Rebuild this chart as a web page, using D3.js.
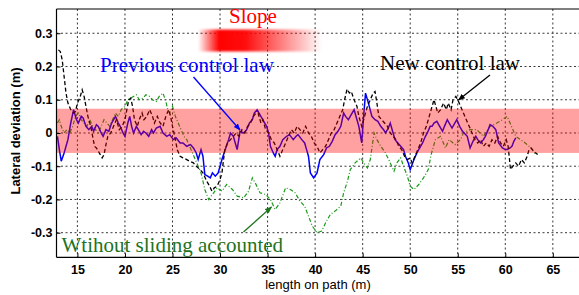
<!DOCTYPE html>
<html>
<head>
<meta charset="utf-8">
<script src="https://cdnjs.cloudflare.com/ajax/libs/d3/7.8.5/d3.min.js"></script>
<style>
  body { margin: 0; background: #fff; }
  svg { display: block; }
</style>
</head>
<body>
<svg id="chart"></svg>
<script>
// --------------------------------------
// DATA  (length on path in m, lateral deviation in m)
// --------------------------------------
var xTicks = [15, 20, 25, 30, 35, 40, 45, 50, 55, 60, 65];
var yTicks = [-0.3, -0.2, -0.1, 0, 0.1, 0.2, 0.3];

// tolerance band drawn in pink
var bandLimits = [-0.06, 0.073];

// previous control law (blue solid)
var previousLaw = [
    [12.9,-0.01],[13.1,-0.05],[13.3,-0.085],[13.6,-0.06],[14.0,-0.02],[14.3,0.03],[14.6,0.07],[14.9,0.04],
    [15.1,0.03],[15.4,0.05],[15.6,0.045],[15.9,0.02],[16.2,0.01],[16.5,0.02],[16.7,0.005],[17.0,0.025],
    [17.2,0.02],[17.5,0.0],[17.7,-0.01],[18.0,0.01],[18.3,0.005],[18.6,0.03],[19.0,0.05],[19.3,0.03],
    [19.5,0.02],[19.8,0.0],[20.0,-0.01],[20.3,0.03],[20.5,0.05],[20.7,0.02],[20.9,0.0],[21.2,0.02],
    [21.4,0.01],[21.7,-0.005],[21.95,0.005],[22.2,0.0],[22.5,-0.01],[22.8,0.01],[23.0,0.0],[23.3,0.015],
    [23.7,0.02],[24.0,0.0],[24.4,-0.01],[24.7,-0.005],[25.1,-0.02],[25.4,-0.015],[25.8,-0.03],[26.1,-0.03],
    [26.5,-0.04],[26.9,-0.035],[27.2,-0.045],[27.5,-0.06],[27.7,-0.08],[28.0,-0.05],[28.2,-0.07],[28.4,-0.125],
    [28.7,-0.13],[28.97,-0.135],[29.2,-0.12],[29.5,-0.13],[29.8,-0.12],[30.0,-0.1],[30.2,-0.08],[30.6,-0.045],
    [30.9,-0.02],[31.1,0.0],[31.4,-0.01],[31.6,-0.03],[31.8,-0.05],[32.1,0.005],[32.5,0.0],[32.8,0.01],
    [33.1,0.03],[33.4,0.04],[33.6,0.06],[33.9,0.07],[34.1,0.06],[34.4,0.045],[34.7,0.03],[34.9,0.02],
    [35.1,0.0],[35.3,-0.04],[35.6,-0.06],[35.8,-0.07],[36.0,-0.05],[36.3,-0.04],[36.6,-0.02],[37.0,-0.01],
    [37.3,-0.005],[37.7,-0.02],[38.0,-0.01],[38.2,-0.005],[38.6,-0.02],[38.9,-0.03],[39.1,-0.05],[39.3,-0.07],
    [39.5,-0.12],[39.85,-0.135],[40.2,-0.12],[40.5,-0.08],[40.9,-0.065],[41.2,-0.045],[41.5,-0.04],[41.8,-0.025],
    [42.1,-0.005],[42.4,0.005],[42.7,0.02],[43.0,0.06],[43.2,0.05],[43.5,0.04],[43.8,0.055],[44.1,0.07],
    [44.4,0.04],[44.6,0.02],[44.9,-0.03],[45.1,0.05],[45.3,0.12],[45.6,0.09],[45.97,0.05],[46.3,0.04],
    [46.6,0.035],[46.9,0.02],[47.2,0.01],[47.4,0.0],[47.7,0.015],[47.9,0.03],[48.2,0.0],[48.4,-0.02],
    [48.7,-0.03],[49.0,-0.04],[49.3,-0.05],[49.5,-0.07],[49.8,-0.09],[50.0,-0.11],[50.2,-0.095],[50.4,-0.08],
    [50.7,-0.06],[51.0,-0.045],[51.3,-0.03],[51.6,-0.01],[51.8,0.0],[52.1,0.02],[52.3,0.02],[52.5,0.03],
    [52.8,0.035],[53.1,0.02],[53.4,0.005],[53.6,0.02],[53.9,0.04],[54.1,0.03],[54.4,0.015],[54.6,0.025],
    [54.9,0.04],[55.2,0.02],[55.5,0.005],[56.0,-0.01],[56.3,-0.045],[56.6,-0.025],[56.9,-0.01],[57.1,-0.02],
    [57.4,-0.03],[57.7,-0.02],[57.9,-0.01],[58.2,0.01],[58.4,0.025],[58.7,0.02],[59.0,0.01],[59.3,-0.03],
    [59.7,-0.045],[60.0,-0.05],[60.2,-0.05],[60.5,-0.045],[60.7,-0.04],[60.9,-0.025],[61.1,-0.015]
];

// new control law (black dashed)
var newLaw = [
    [13.0,0.25],[13.2,0.245],[13.4,0.22],[13.6,0.17],[13.8,0.12],[14.0,0.09],[14.3,0.07],[14.6,0.06],
    [14.8,0.065],[15.0,0.09],[15.3,0.11],[15.5,0.13],[15.7,0.11],[15.9,0.08],[16.1,0.05],[16.4,0.02],
    [16.6,-0.01],[16.8,-0.04],[17.0,-0.045],[17.3,-0.06],[17.6,-0.075],[17.8,-0.065],[18.0,-0.035],[18.2,-0.01],
    [18.5,0.0],[18.8,0.02],[19.1,0.04],[19.4,0.01],[19.7,0.02],[20.0,0.04],[20.2,0.07],[20.4,0.1],
    [20.6,0.105],[20.8,0.08],[21.0,0.04],[21.3,0.02],[21.5,0.04],[21.8,0.06],[22.0,0.04],[22.3,0.05],
    [22.6,0.07],[22.9,0.05],[23.1,0.03],[23.4,0.05],[23.7,0.03],[24.0,0.02],[24.3,0.05],[24.6,0.07],
    [24.8,0.05],[25.0,0.02],[25.3,-0.02],[25.5,-0.05],[25.8,-0.07],[26.1,-0.075],[26.5,-0.08],[26.8,-0.085],
    [27.2,-0.09],[27.5,-0.1],[27.9,-0.11],[28.2,-0.12],[28.6,-0.145],[28.9,-0.16],[29.15,-0.175],[29.4,-0.165],
    [29.7,-0.16],[30.0,-0.14],[30.2,-0.12],[30.5,-0.05],[30.8,-0.03],[31.1,-0.02],[31.4,-0.01],[31.7,0.0],
    [32.0,-0.01],[32.3,0.01],[32.6,0.0],[32.9,0.02],[33.2,0.03],[33.5,0.05],[33.8,0.06],[34.0,0.06],
    [34.3,0.03],[34.5,0.04],[34.8,0.01],[35.1,0.0],[35.4,-0.02],[35.7,-0.03],[36.0,-0.05],[36.3,-0.07],
    [36.6,-0.05],[36.9,-0.03],[37.2,-0.01],[37.5,0.01],[37.8,0.0],[38.1,0.02],[38.4,0.01],[38.7,0.0],
    [39.0,0.02],[39.3,0.0],[39.6,-0.01],[39.9,-0.03],[40.2,-0.04],[40.5,-0.06],[40.8,-0.05],[41.1,-0.04],
    [41.4,-0.02],[41.7,0.0],[42.0,0.01],[42.3,0.03],[42.6,0.05],[42.9,0.07],[43.1,0.1],[43.36,0.132],
    [43.6,0.12],[43.8,0.125],[44.1,0.1],[44.4,0.08],[44.6,0.05],[44.9,0.02],[45.2,0.05],[45.5,0.08],
    [45.8,0.1],[46.1,0.12],[46.3,0.125],[46.5,0.09],[46.7,0.05],[47.0,0.04],[47.3,0.03],[47.6,0.02],
    [47.9,0.0],[48.2,-0.01],[48.5,-0.02],[48.8,-0.04],[49.1,-0.05],[49.4,-0.07],[49.7,-0.08],[50.0,-0.075],
    [50.2,-0.09],[50.5,-0.07],[50.8,-0.05],[51.1,-0.03],[51.4,0.0],[51.7,0.02],[52.0,0.05],[52.2,0.07],
    [52.5,0.1],[52.7,0.08],[52.9,0.06],[53.2,0.07],[53.5,0.09],[53.8,0.07],[54.0,0.09],[54.3,0.07],
    [54.5,0.1],[54.8,0.11],[55.0,0.1],[55.3,0.08],[55.6,0.06],[55.9,0.04],[56.2,0.02],[56.5,0.0],
    [56.8,-0.02],[57.1,-0.03],[57.4,-0.02],[57.7,-0.04],[58.0,-0.03],[58.3,-0.04],[58.6,-0.02],[58.9,-0.03],
    [59.2,-0.01],[59.5,-0.03],[59.8,-0.04],[60.1,-0.02],[60.3,-0.04],[60.55,-0.11],[60.8,-0.1],[61.1,-0.09],
    [61.4,-0.1],[61.7,-0.08],[62.0,-0.09],[62.3,-0.07],[62.5,-0.05],[62.7,-0.045],[63.0,-0.055],[63.4,-0.065]
];

// without sliding accounted (green dash-dot)
var withoutSliding = [
    [12.9,0.03],[13.1,0.04],[13.3,0.02],[13.6,0.0],[13.9,0.01],[14.2,0.0],[14.5,0.02],[14.8,0.05],
    [15.1,0.06],[15.4,0.04],[15.7,0.03],[16.0,0.02],[16.3,0.04],[16.6,0.02],[16.9,0.01],[17.2,0.0],
    [17.5,0.02],[17.8,0.04],[18.1,0.03],[18.4,0.02],[18.7,0.04],[19.0,0.06],[19.3,0.05],[19.6,0.07],
    [20.0,0.08],[20.3,0.1],[20.6,0.105],[20.9,0.11],[21.2,0.115],[21.5,0.1],[21.9,0.105],[22.2,0.115],
    [22.6,0.11],[22.9,0.1],[23.3,0.095],[23.6,0.11],[24.0,0.12],[24.3,0.095],[24.5,0.07],[24.7,0.06],
    [25.0,0.08],[25.3,0.05],[25.6,0.03],[25.9,0.01],[26.2,-0.01],[26.5,-0.02],[26.8,-0.04],[27.1,-0.06],
    [27.4,-0.08],[27.7,-0.1],[28.0,-0.12],[28.4,-0.17],[28.8,-0.2],[29.2,-0.185],[29.7,-0.165],[30.2,-0.175],
    [30.7,-0.155],[31.3,-0.17],[31.8,-0.19],[32.5,-0.195],[33.0,-0.175],[33.4,-0.135],[33.7,-0.15],[34.2,-0.18],
    [34.8,-0.185],[35.3,-0.2],[35.8,-0.23],[36.3,-0.21],[36.9,-0.165],[37.4,-0.17],[37.9,-0.18],[38.4,-0.205],
    [38.9,-0.22],[39.3,-0.25],[39.7,-0.28],[40.2,-0.3],[40.7,-0.295],[41.1,-0.27],[41.6,-0.245],[42.1,-0.235],
    [42.7,-0.22],[43.0,-0.18],[43.4,-0.145],[43.7,-0.11],[44.2,-0.09],[44.8,-0.075],[45.1,-0.09],[45.5,-0.105],
    [45.8,-0.08],[46.0,-0.04],[46.2,0.0],[46.5,-0.02],[46.9,-0.04],[47.4,-0.06],[47.9,-0.09],[48.3,-0.115],
    [48.6,-0.09],[49.0,-0.075],[49.3,-0.1],[49.7,-0.13],[50.0,-0.16],[50.4,-0.17],[50.9,-0.155],[51.4,-0.135],
    [51.9,-0.11],[52.2,-0.065],[52.65,-0.02],[53.2,-0.01],[53.7,-0.045],[54.1,-0.02],[54.7,-0.035],[55.3,-0.02],
    [55.6,0.0],[56.3,0.01],[57.0,0.01],[57.7,-0.01],[58.4,0.02],[59.1,0.03],[59.7,0.04],[60.2,0.05],
    [60.5,0.03],[61.1,-0.01],[61.6,-0.02],[62.1,-0.03],[62.7,-0.045],[63.2,-0.065]
];

// --------------------------------------
// CONFIG
// --------------------------------------
var CONFIG = {
    width: 579,
    height: 295,
    left: 56.5,
    right: 580.5,
    top: 9,
    bottom: 257.3
};

var svg = d3.select('#chart')
    .attr('width', CONFIG.width)
    .attr('height', CONFIG.height);

svg.append('rect')
    .attr('width', CONFIG.width).attr('height', CONFIG.height)
    .attr('fill', '#fff');

var x = d3.scaleLinear().domain([12.8, 67.91]).range([CONFIG.left, CONFIG.right]);
var y = d3.scaleLinear().domain([-0.374, 0.373]).range([CONFIG.bottom, CONFIG.top]);

var defs = svg.append('defs');

defs.append('clipPath').attr('id', 'plot-clip')
    .append('rect')
    .attr('x', CONFIG.left).attr('y', CONFIG.top)
    .attr('width', CONFIG.right - CONFIG.left)
    .attr('height', CONFIG.bottom - CONFIG.top);

// arrow heads for the annotations
function addMarker(id, color) {
    defs.append('marker')
        .attr('id', id)
        .attr('viewBox', '0 0 10 10')
        .attr('refX', 9).attr('refY', 5)
        .attr('markerWidth', 7).attr('markerHeight', 7)
        .attr('markerUnits', 'userSpaceOnUse')
        .attr('orient', 'auto')
        .append('path')
        .attr('d', 'M0,1 L10,5 L0,9 Z')
        .attr('fill', color);
}
addMarker('arrow-blue', '#0000ff');
addMarker('arrow-black', '#000');
addMarker('arrow-green', '#1e731e');

// slope gradient
var grad = defs.append('linearGradient').attr('id', 'slope-grad');
grad.append('stop').attr('offset', '0%').attr('stop-color', '#ff0000').attr('stop-opacity', 0);
grad.append('stop').attr('offset', '17%').attr('stop-color', '#ff0000').attr('stop-opacity', 1);
grad.append('stop').attr('offset', '38%').attr('stop-color', '#ff0000').attr('stop-opacity', 0.95);
grad.append('stop').attr('offset', '100%').attr('stop-color', '#ff0000').attr('stop-opacity', 0);

defs.append('filter').attr('id', 'soft')
    .attr('x', '-10%').attr('y', '-30%').attr('width', '120%').attr('height', '160%')
    .append('feGaussianBlur').attr('stdDeviation', 1.2);

// --------------------------------------
// GRID
// --------------------------------------
var grid = svg.append('g').attr('class', 'grid')
    .attr('stroke', '#222').attr('stroke-width', 0.9)
    .attr('stroke-dasharray', '2,2.5');

grid.selectAll('line.gx').data(xTicks).enter().append('line')
    .attr('x1', function(d){ return x(d); }).attr('x2', function(d){ return x(d); })
    .attr('y1', CONFIG.top).attr('y2', CONFIG.bottom);

grid.selectAll('line.gy').data(yTicks).enter().append('line')
    .attr('y1', function(d){ return y(d); }).attr('y2', function(d){ return y(d); })
    .attr('x1', CONFIG.left).attr('x2', CONFIG.right);

// --------------------------------------
// LINES
// --------------------------------------
var line = d3.line()
    .x(function(d){ return x(d[0]); })
    .y(function(d){ return y(d[1]); });

var plot = svg.append('g').attr('clip-path', 'url(#plot-clip)');

plot.append('path').datum(withoutSliding)
    .attr('d', line).attr('fill', 'none')
    .attr('stroke', '#1a9a1a').attr('stroke-width', 1.2)
    .attr('stroke-dasharray', '4,2,1,2');

plot.append('path').datum(previousLaw)
    .attr('d', line).attr('fill', 'none')
    .attr('stroke', '#0000ff').attr('stroke-width', 1.5);

plot.append('path').datum(newLaw)
    .attr('d', line).attr('fill', 'none')
    .attr('stroke', '#000').attr('stroke-width', 1.3)
    .attr('stroke-dasharray', '4,2.5');

// pink band on top, semi transparent
plot.append('rect')
    .attr('x', CONFIG.left)
    .attr('width', CONFIG.right - CONFIG.left)
    .attr('y', y(bandLimits[1]))
    .attr('height', y(bandLimits[0]) - y(bandLimits[1]))
    .attr('fill', '#ff0000').attr('fill-opacity', 0.37);

// --------------------------------------
// AXES
// --------------------------------------
var xAxis = d3.axisBottom(x).tickValues(xTicks).tickSize(-4).tickPadding(8)
    .tickFormat(function(d){ return String(d); });
var yAxis = d3.axisLeft(y).tickValues(yTicks).tickSize(-4).tickPadding(4)
    .tickFormat(function(d){ return String(d); });

var gx = svg.append('g').attr('transform', 'translate(0,' + CONFIG.bottom + ')').call(xAxis);
var gy = svg.append('g').attr('transform', 'translate(' + CONFIG.left + ',0)').call(yAxis);

[gx, gy].forEach(function(g){
    g.select('.domain').remove();
    g.selectAll('text')
        .attr('fill', '#000')
        .style('font-family', '"Liberation Sans", Arial, sans-serif')
        .style('font-weight', 'bold')
        .style('font-size', '12.5px');
    g.selectAll('.tick line').attr('stroke', '#000');
});

// frame
var frame = svg.append('g').attr('stroke', '#000').attr('stroke-width', 1.2);
frame.append('line').attr('x1', CONFIG.left).attr('x2', CONFIG.left).attr('y1', CONFIG.top).attr('y2', CONFIG.bottom);
frame.append('line').attr('x1', CONFIG.left).attr('x2', CONFIG.right).attr('y1', CONFIG.bottom).attr('y2', CONFIG.bottom);
frame.append('line').attr('x1', CONFIG.left).attr('x2', CONFIG.right).attr('y1', CONFIG.top).attr('y2', CONFIG.top);

// axis titles
svg.append('text')
    .attr('x', 318).attr('y', 289)
    .attr('text-anchor', 'middle')
    .style('font-family', '"Liberation Sans", Arial, sans-serif')
    .style('font-size', '13px')
    .text('length on path (m)');

svg.append('text')
    .attr('transform', 'translate(20,131) rotate(-90)')
    .attr('text-anchor', 'middle')
    .style('font-family', '"Liberation Sans", Arial, sans-serif')
    .style('font-weight', 'bold')
    .style('font-size', '13px')
    .text('Lateral deviation (m)');

// --------------------------------------
// ANNOTATIONS
// --------------------------------------
svg.append('rect')
    .attr('x', 198).attr('y', 29.5).attr('width', 124).attr('height', 22)
    .attr('fill', 'url(#slope-grad)')
    .attr('filter', 'url(#soft)');

function note(txt, px, py, color) {
    svg.append('text')
        .attr('x', px).attr('y', py)
        .attr('fill', color)
        .style('font-family', '"Liberation Serif", "Times New Roman", serif')
        .style('font-size', '21px')
        .text(txt);
}
note('Slope', 229, 23, '#ff0000');
note('Previous control law', 100, 72, '#0000ff');
note('New control law', 380, 70, '#000');
note('Wtihout sliding accounted', 61.5, 251.5, '#1e731e');

function arrow(x1, y1, x2, y2, color, marker) {
    svg.append('line')
        .attr('x1', x1).attr('y1', y1).attr('x2', x2).attr('y2', y2)
        .attr('stroke', color).attr('stroke-width', 1.3)
        .attr('marker-end', 'url(#' + marker + ')');
}
arrow(193.5, 77, 240, 130, '#0000ff', 'arrow-blue');
arrow(490, 75, 458.5, 100, '#000', 'arrow-black');
arrow(243.5, 232, 271.5, 207, '#1e731e', 'arrow-green');
</script>
</body>
</html>
